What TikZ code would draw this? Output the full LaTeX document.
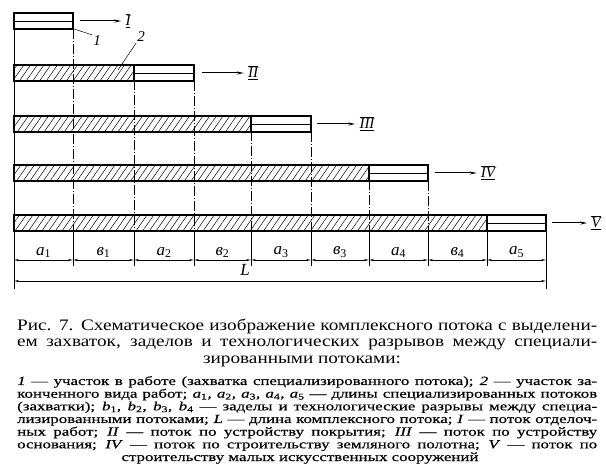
\documentclass[tikz,border=0pt]{standalone}
\usepackage{fontspec}
\setmainfont{Liberation Serif}
\newfontfamily\capfont[FakeStretch=1.2]{Liberation Serif}
\newfontfamily\legfont[FakeStretch=1.35,FakeBold=0.4]{Liberation Serif}
\usetikzlibrary{arrows.meta,patterns.meta}
\newcommand\lsym[2]{\textit{#1}\textsubscript{#2}}
\newcommand\flowno[1]{$\overline{\underline{\mbox{\itshape #1}}}$}
\tikzset{
  >={Stealth[length=7pt,width=3pt]},
  % полосы потоков
  bar/.style={draw=black,line width=1.1pt},
  hatch/.style={pattern={Lines[angle=55,distance=5.5pt,line width=0.5pt]}},
  mid/.style={draw=black,line width=0.8pt},
  axis/.style={draw=black,line width=0.5pt,dash pattern=on 10pt off 2pt on 1pt off 2pt},
  ext/.style={draw=black,line width=0.5pt},
  dim/.style={draw=black,line width=0.7pt,{Stealth[length=5pt,width=2pt]}-{Stealth[length=5pt,width=2pt]}},
  flow/.style={->,draw=black,line width=1pt,shorten >=3pt},
  lead/.style={draw=black,line width=0.5pt},
  num/.style={font=\fontsize{15}{15}\selectfont\itshape,inner sep=1pt},
  seg/.style={font=\fontsize{17}{17}\selectfont,inner sep=1pt},
  % подпись
  capl/.style={font=\capfont\fontsize{16}{16}\selectfont,inner sep=0pt,anchor=base west},
  legl/.style={font=\legfont\fontsize{12.5}{12.5}\selectfont,inner sep=0pt,anchor=base west},
}

\begin{document}
\begin{tikzpicture}[x=1pt,y=-1pt]
  \useasboundingbox (0,0) rectangle (606,473);
  % оси захваток
  \draw[ext] (14,13) -- (14,289);
  \draw[axis] (73,29) -- (73,231);   \draw[ext] (73,231) -- (73,266);
  \draw[axis] (134,65) -- (134,231); \draw[ext] (134,231) -- (134,266);
  \draw[axis] (194,81) -- (194,231); \draw[ext] (194,231) -- (194,266);
  \draw[axis] (251,116) -- (251,231); \draw[ext] (251,231) -- (251,266);
  \draw[axis] (311,132) -- (311,231); \draw[ext] (311,231) -- (311,266);
  \draw[axis] (369,165) -- (369,231); \draw[ext] (369,231) -- (369,266);
  \draw[axis] (428,181) -- (428,231); \draw[ext] (428,231) -- (428,266);
  \draw[ext] (487,231) -- (487,266);
  \draw[ext] (546,231) -- (546,289);
  % потоки I--V
  \draw[bar] (14,13) rectangle (73,29);
  \draw[mid] (14,21) -- (73,21);
  \draw[bar,hatch] (14,65) rectangle (134,81);
  \draw[bar] (134,65) rectangle (194,81);
  \draw[mid] (134,73) -- (194,73);
  \draw[bar,hatch] (14,116) rectangle (251,132);
  \draw[bar] (251,116) rectangle (311,132);
  \draw[mid] (251,124) -- (311,124);
  \draw[bar,hatch] (14,165) rectangle (369,181);
  \draw[bar] (369,165) rectangle (428,181);
  \draw[mid] (369,173) -- (428,173);
  \draw[bar,hatch] (14,215) rectangle (487,231);
  \draw[bar] (487,215) rectangle (546,231);
  \draw[mid] (487,223) -- (546,223);
  % стрелки потоков
  \coordinate (f1) at (80,21);
  \node[num] (r1) at (128,21) {\flowno{I}};
  \draw[flow] (f1) -- (r1.west);
  \coordinate (f2) at (202,73);
  \node[num] (r2) at (253,73) {\flowno{II}};
  \draw[flow] (f2) -- (r2.west);
  \coordinate (f3) at (317,124);
  \node[num] (r3) at (367,124) {\flowno{III}};
  \draw[flow] (f3) -- (r3.west);
  \coordinate (f4) at (435,173);
  \node[num] (r4) at (488,173) {\flowno{IV}};
  \draw[flow] (f4) -- (r4.west);
  \coordinate (f5) at (552,223);
  \node[num] (r5) at (596,223) {\flowno{V}};
  \draw[flow] (f5) -- (r5.west);
  % выноски
  \node[num] (n1) at (97,41) {1};
  \coordinate (p1) at (71,28);
  \draw[lead] (p1) -- (n1.north west);
  \node[num] (n2) at (141,37) {2};
  \coordinate (p2) at (118,70);
  \draw[lead] (n2.south west) -- (p2);
  % размерные линии
  \coordinate (d0) at (14,260);
  \coordinate (d1) at (73,260);
  \coordinate (d2) at (134,260);
  \coordinate (d3) at (194,260);
  \coordinate (d4) at (251,260);
  \coordinate (d5) at (311,260);
  \coordinate (d6) at (369,260);
  \coordinate (d7) at (428,260);
  \coordinate (d8) at (487,260);
  \coordinate (d9) at (546,260);
  \draw[dim] (d0) -- node[seg,above=1pt] (a1) {\lsym{a}{1}} (d1);
  \draw[dim] (d1) -- node[seg,above=1pt] (b1) {\lsym{в}{1}} (d2);
  \draw[dim] (d2) -- node[seg,above=1pt] (a2) {\lsym{a}{2}} (d3);
  \draw[dim] (d3) -- node[seg,above=1pt] (b2) {\lsym{в}{2}} (d4);
  \draw[dim] (d4) -- node[seg,above=1pt] (a3) {\lsym{a}{3}} (d5);
  \draw[dim] (d5) -- node[seg,above=1pt] (b3) {\lsym{в}{3}} (d6);
  \draw[dim] (d6) -- node[seg,above=1pt] (a4) {\lsym{a}{4}} (d7);
  \draw[dim] (d7) -- node[seg,above=1pt] (b4) {\lsym{в}{4}} (d8);
  \draw[dim] (d8) -- node[seg,above=1pt] (a5) {\lsym{a}{5}} (d9);
  \coordinate (l0) at (14,281);
  \coordinate (l9) at (546,281);
  \draw[dim] (l0) -- (l9);
  \node[seg] (len) at (245,270) {\textit{L}};
  % подпись к рисунку
  \node[capl] (cap1) at (17,331) {\makebox[580pt][s]{Рис. 7. Схематическое изображение комплексного потока с выделени-}};
  \node[capl] (cap2) at (17,347) {\makebox[580pt][s]{ем захваток, заделов и технологических разрывов между специали-}};
  \node[capl,anchor=base] (cap3) at (302,364) {зированными потоками:};
  \node[legl] (leg1) at (17,385) {\makebox[580pt][s]{\textit{1} — участок в работе (захватка специализированного потока); \textit{2} — участок за-}};
  \node[legl] (leg2) at (17,397.7) {\makebox[580pt][s]{конченного вида работ; \lsym{a}{1}, \lsym{a}{2}, \lsym{a}{3}, \lsym{a}{4}, \lsym{a}{5} — длины специализированных потоков}};
  \node[legl] (leg3) at (17,410.3) {\makebox[580pt][s]{(захватки); \lsym{b}{1}, \lsym{b}{2}, \lsym{b}{3}, \lsym{b}{4} — заделы и технологические разрывы между специа-}};
  \node[legl] (leg4) at (17,423) {\makebox[580pt][s]{лизированными потоками; \textit{L} — длина комплексного потока; \textit{I} — поток отделоч-}};
  \node[legl] (leg5) at (17,435.7) {\makebox[580pt][s]{ных работ; \textit{II} — поток по устройству покрытия; \textit{III} — поток по устройству}};
  \node[legl] (leg6) at (17,448.3) {\makebox[580pt][s]{основания; \textit{IV} — поток по строительству земляного полотна; \textit{V} — поток по}};
  \node[legl,anchor=base] (leg7) at (300,461) {строительству малых искусственных сооружений};
\end{tikzpicture}
\end{document}
